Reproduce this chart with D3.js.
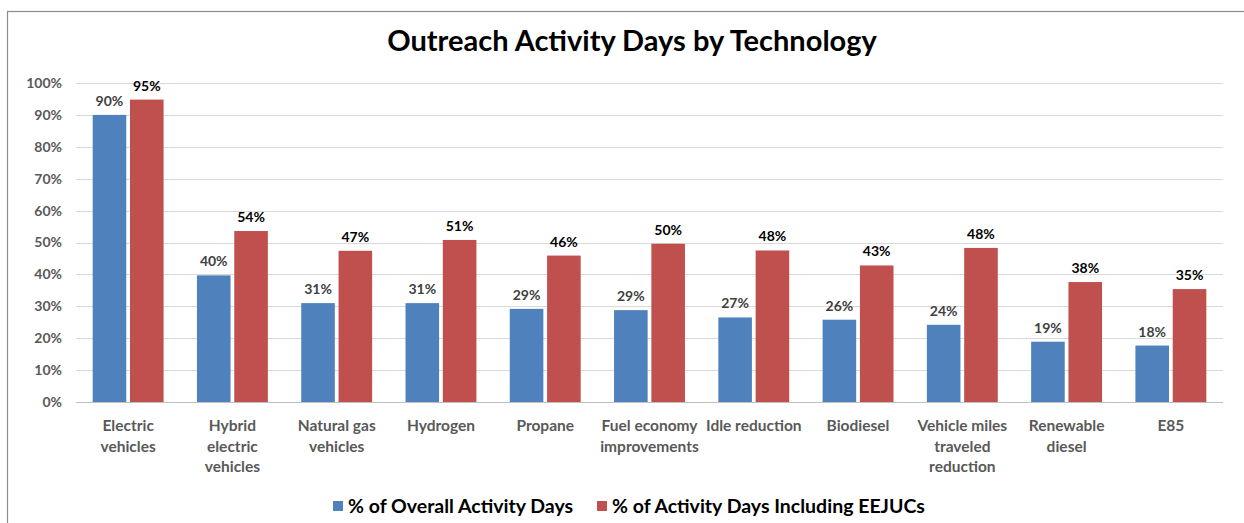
<!DOCTYPE html>
<html><head><meta charset="utf-8">
<script src="https://cdn.jsdelivr.net/npm/d3@7"></script>
<style>body{margin:0;background:#fff}svg{display:block}text{font-family:Lato,"Open Sans",sans-serif}</style>
</head><body>
<svg id="c" width="1244" height="523"></svg>
<script>
const categories = [["Electric","vehicles"],["Hybrid","electric","vehicles"],["Natural gas","vehicles"],["Hydrogen"],["Propane"],["Fuel economy","improvements"],["Idle reduction"],["Biodiesel"],["Vehicle miles","traveled","reduction"],["Renewable","diesel"],["E85"]];
const overall = [90, 39.7, 31, 31, 29.2, 28.8, 26.5, 25.8, 24.2, 18.9, 17.7];
const eejuc = [94.8, 53.6, 47.4, 50.8, 45.9, 49.6, 47.5, 42.8, 48.3, 37.6, 35.4];
const seriesNames = ["% of Overall Activity Days","% of Activity Days Including EEJUCs"];
const yTicks = [0,10,20,30,40,50,60,70,80,90,100];
const title = "Outreach Activity Days by Technology";

const svg = d3.select("#c");
const colors = ["#4f81bd","#c0504d"];
const m = {l:76, r:1223, t:83, b:402};

svg.append("rect").attr("x",7.5).attr("y",11.5).attr("width",1260).attr("height",540)
  .attr("fill","none").attr("stroke","#8c8c8c").attr("stroke-width",1.2);

svg.append("text").attr("x",632).attr("y",51).attr("text-anchor","middle")
  .attr("font-size",29).attr("font-weight","bold").attr("fill","#000").text(title);

const idx = categories.map((d,i)=>i);
const x = d3.scaleBand().domain(idx).range([m.l,m.r]).paddingInner(0.32).paddingOuter(0.16);
const xs = d3.scaleBand().domain([0,1]).range([0,x.bandwidth()]).paddingInner(0.1);
const y = d3.scaleLinear().domain([0,100]).range([m.b,m.t]);

const g = svg.append("g");
g.selectAll("line.grid").data(yTicks).join("line")
  .attr("x1",m.l).attr("x2",m.r).attr("y1",d=>Math.round(y(d))+0.5).attr("y2",d=>Math.round(y(d))+0.5)
  .attr("stroke",d=>d===0?"#c0c0c0":"#d9d9d9").attr("stroke-width",1);

const yAxis = d3.axisLeft(y).tickValues(yTicks).tickFormat(d=>d+"%").tickSize(0).tickPadding(0);
const ya = svg.append("g").attr("transform",`translate(62,0)`).call(yAxis);
ya.select(".domain").remove();
ya.selectAll("text").attr("font-size",14).attr("font-weight","bold").attr("fill","#595959").attr("font-family","Lato,sans-serif");

const series = [overall, eejuc];
series.forEach((vals,s)=>{
  svg.append("g").selectAll("rect").data(vals).join("rect")
    .attr("x",(d,i)=>x(i)+xs(s)).attr("width",xs.bandwidth())
    .attr("y",d=>y(d)).attr("height",d=>y(0)-y(d))
    .attr("fill",colors[s]);
  svg.append("g").selectAll("text").data(vals).join("text")
    .attr("x",(d,i)=>x(i)+xs(s)+xs.bandwidth()/2).attr("y",d=>y(d)-9)
    .attr("text-anchor","middle").attr("font-size",14).attr("font-weight","bold")
    .attr("fill",s===0?"#404040":"#000").text(d=>Math.round(d)+"%");
});

const xa = svg.append("g").attr("transform",`translate(0,${m.b})`)
  .call(d3.axisBottom(x).tickSize(0).tickFormat(""));
xa.select(".domain").remove();
xa.selectAll(".tick").each(function(d){
  const t = d3.select(this).append("text").attr("text-anchor","middle")
    .attr("font-size",15.5).attr("font-weight","bold").attr("fill","#595959");
  categories[d].forEach((line,k)=>t.append("tspan").attr("x",0).attr("y",29+k*20.5).text(line));
});

const leg = svg.append("g").attr("transform","translate(333,507)");
const items = [{x:0},{x:264}];
items.forEach((it,i)=>{
  leg.append("rect").attr("x",it.x).attr("y",-6).attr("width",10).attr("height",10).attr("fill",colors[i]);
  leg.append("text").attr("x",it.x+15).attr("y",5.5).attr("font-size",19.5).attr("font-weight","bold").attr("fill","#000").text(seriesNames[i]);
});
</script>
</body></html>
